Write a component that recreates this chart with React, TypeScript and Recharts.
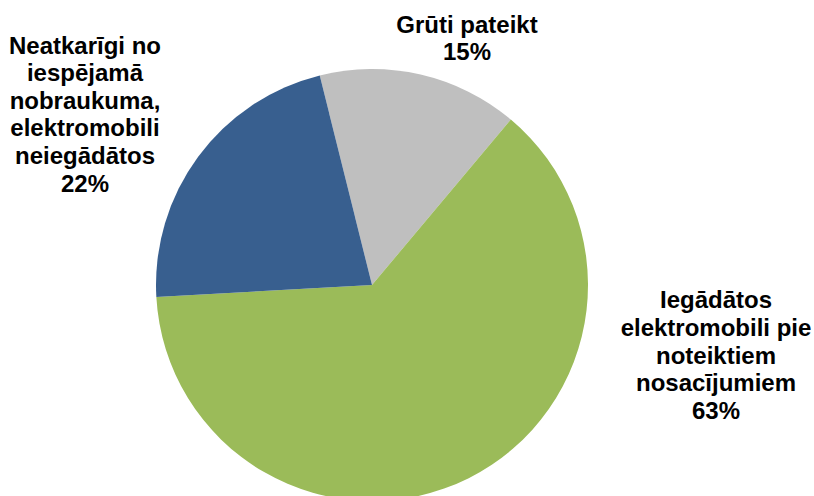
import { PieChart, Pie, Cell } from "recharts"

const categories = [
  ["Grūti pateikt"],
  ["Iegādātos", "elektromobili pie", "noteiktiem", "nosacījumiem"],
  ["Neatkarīgi no", "iespējamā", "nobraukuma,", "elektromobili", "neiegādātos"],
]
const shares = [15, 63, 22]
const colors = ["#BFBFBF", "#9BBB59", "#385F8F"]

// where each label block sits, relative to the pie centre
const labelOffsets = [
  { dx: 95, dy: -247 },
  { dx: 344, dy: 70 },
  { dx: -287, dy: -171 },
]

const data = categories.map((lines, i) => ({
  name: lines.join(" "),
  lines,
  value: shares[i],
}))

const LINE_HEIGHT = 27.6

const renderLabel = (props: any) => {
  const { cx, cy, index, payload } = props
  const off = labelOffsets[index]
  const lines: string[] = [...(payload.lines ?? data[index].lines), `${shares[index]}%`]
  const x = cx + off.dx
  const top = cy + off.dy - ((lines.length - 1) * LINE_HEIGHT) / 2
  return (
    <g key={`label-${index}`}>
      {lines.map((line, i) => (
        <text
          key={i}
          x={x}
          y={top + i * LINE_HEIGHT}
          textAnchor="middle"
          dominantBaseline="central"
          fill="#000"
          fontFamily="'Liberation Sans', Arial, sans-serif"
          fontWeight="bold"
          fontSize={24}>
          {line}
        </text>
      ))}
    </g>
  )
}

const App = () => {
  return (
    <div style={{ position: "absolute", left: 0, top: 0, background: "#fff" }}>
      <PieChart
        width={814}
        height={496}
        margin={{ top: 0, right: 0, bottom: 0, left: 0 }}>
        <Pie
          data={data}
          dataKey="value"
          cx={372}
          cy={285}
          outerRadius={216}
          startAngle={104}
          endAngle={-256}
          stroke="none"
          labelLine={false}
          label={renderLabel}
          isAnimationActive={false}>
          {data.map((entry, index) => (
            <Cell
              key={`cell-${index}`}
              fill={colors[index]}
            />
          ))}
        </Pie>
      </PieChart>
    </div>
  )
}

export default App
